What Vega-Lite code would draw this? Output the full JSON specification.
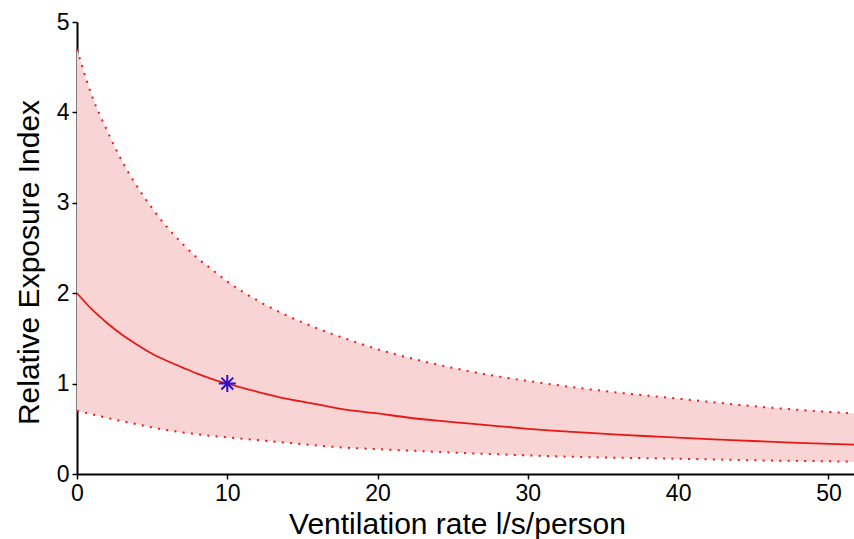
{
  "$schema": "https://vega.github.io/schema/vega-lite/v6.json",
  "width": 777,
  "height": 452,
  "autosize": "none",
  "padding": {"left": 77, "top": 22, "right": 0, "bottom": 65},
  "background": "white",
  "config": {
    "view": {"stroke": null},
    "font": "Liberation Sans",
    "axis": {
      "grid": false,
      "domainColor": "black",
      "domainWidth": 2,
      "tickColor": "black",
      "tickWidth": 1.5,
      "tickSize": 5,
      "labelFlush": false,
      "labelFont": "Liberation Sans",
      "labelFontSize": 23,
      "labelColor": "black",
      "titleFont": "Liberation Sans",
      "titleFontSize": 30,
      "titleFontWeight": "normal",
      "titleColor": "black"
    }
  },
  "datasets": {
    "curves": [
      {"x": 0, "mid": 2.0, "upper": 4.7, "lower": 0.7},
      {"x": 1, "mid": 1.82, "upper": 4.18, "lower": 0.66},
      {"x": 2, "mid": 1.67, "upper": 3.8, "lower": 0.62},
      {"x": 3, "mid": 1.54, "upper": 3.46, "lower": 0.585},
      {"x": 4, "mid": 1.43, "upper": 3.18, "lower": 0.55},
      {"x": 5, "mid": 1.33, "upper": 2.94, "lower": 0.515},
      {"x": 6, "mid": 1.25, "upper": 2.73, "lower": 0.485},
      {"x": 7, "mid": 1.18, "upper": 2.55, "lower": 0.46},
      {"x": 8, "mid": 1.11, "upper": 2.39, "lower": 0.44},
      {"x": 9, "mid": 1.05, "upper": 2.26, "lower": 0.42},
      {"x": 10, "mid": 1.0, "upper": 2.13, "lower": 0.405},
      {"x": 12, "mid": 0.91, "upper": 1.92, "lower": 0.375},
      {"x": 14, "mid": 0.83, "upper": 1.75, "lower": 0.345},
      {"x": 16, "mid": 0.77, "upper": 1.61, "lower": 0.315},
      {"x": 18, "mid": 0.71, "upper": 1.49, "lower": 0.29},
      {"x": 20, "mid": 0.67, "upper": 1.38, "lower": 0.275},
      {"x": 22, "mid": 0.625, "upper": 1.29, "lower": 0.26},
      {"x": 24, "mid": 0.59, "upper": 1.21, "lower": 0.245},
      {"x": 26, "mid": 0.56, "upper": 1.14, "lower": 0.23},
      {"x": 28, "mid": 0.53, "upper": 1.08, "lower": 0.218},
      {"x": 30, "mid": 0.5, "upper": 1.03, "lower": 0.205},
      {"x": 33, "mid": 0.465, "upper": 0.96, "lower": 0.19},
      {"x": 36, "mid": 0.435, "upper": 0.9, "lower": 0.18},
      {"x": 39, "mid": 0.41, "upper": 0.85, "lower": 0.172},
      {"x": 42, "mid": 0.385, "upper": 0.8, "lower": 0.162},
      {"x": 45, "mid": 0.365, "upper": 0.75, "lower": 0.152},
      {"x": 48, "mid": 0.345, "upper": 0.71, "lower": 0.145},
      {"x": 51.7, "mid": 0.325, "upper": 0.67, "lower": 0.136}
    ],
    "marker": [{"x": 10, "y": 1}]
  },
  "layer": [
    {
      "data": {"name": "curves"},
      "mark": {"type": "area", "color": "#f8d4d4", "opacity": 1, "interpolate": "monotone"},
      "encoding": {
        "x": {
          "field": "x", "type": "quantitative",
          "scale": {"domain": [0, 51.7], "nice": false, "zero": false},
          "axis": {"values": [0, 10, 20, 30, 40, 50], "format": "d", "title": "Ventilation rate l/s/person", "labelPadding": 3, "titlePadding": 4, "titleX": 380}
        },
        "y": {
          "field": "lower", "type": "quantitative",
          "scale": {"domain": [0, 5], "nice": false},
          "axis": {"values": [0, 1, 2, 3, 4, 5], "format": "d", "title": "Relative Exposure Index", "labelPadding": 3, "titlePadding": 12, "titleY": 240}
        },
        "y2": {"field": "upper"}
      }
    },
    {
      "data": {"name": "curves"},
      "mark": {"type": "line", "color": "#f01818", "strokeWidth": 2, "strokeDash": [2, 6.3], "interpolate": "monotone"},
      "encoding": {
        "x": {"field": "x", "type": "quantitative"},
        "y": {"field": "upper", "type": "quantitative"}
      }
    },
    {
      "data": {"name": "curves"},
      "mark": {"type": "line", "color": "#f01818", "strokeWidth": 2, "strokeDash": [2, 6.3], "interpolate": "monotone"},
      "encoding": {
        "x": {"field": "x", "type": "quantitative"},
        "y": {"field": "lower", "type": "quantitative"}
      }
    },
    {
      "data": {"name": "curves"},
      "mark": {"type": "line", "color": "#e81818", "strokeWidth": 1.8, "interpolate": "monotone"},
      "encoding": {
        "x": {"field": "x", "type": "quantitative"},
        "y": {"field": "mid", "type": "quantitative"}
      }
    },
    {
      "data": {"name": "marker"},
      "mark": {
        "type": "point",
        "shape": "M0,-1L0,1M-1,0L1,0M-0.7,-0.7L0.7,0.7M-0.7,0.7L0.7,-0.7",
        "filled": false,
        "color": "#2a10d8",
        "strokeWidth": 2,
        "size": 289,
        "opacity": 1
      },
      "encoding": {
        "x": {"field": "x", "type": "quantitative"},
        "y": {"field": "y", "type": "quantitative"}
      }
    }
  ]
}
